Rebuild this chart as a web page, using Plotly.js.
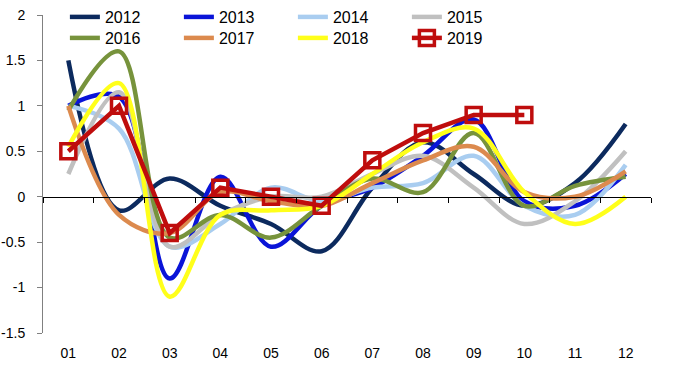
<!DOCTYPE html>
<html>
<head>
<meta charset="utf-8">
<script src="https://cdn.plot.ly/plotly-3.0.1.min.js"></script>
<style>
  html, body { margin: 0; padding: 0; background: #fff; }
  #chart { width: 680px; height: 372px; }
</style>
</head>
<body>
<div id="chart"></div>
<script>
const months = ['01','02','03','04','05','06','07','08','09','10','11','12'];
const s2012 = [1.5, -0.15, 0.2, -0.1, -0.3, -0.6, 0.1, 0.6, 0.25, -0.1, 0.15, 0.8];
const s2013 = [1.0, 1.1, -0.9, 0.22, -0.55, -0.1, 0.1, 0.45, 0.85, -0.05, -0.1, 0.25];
const s2014 = [1.0, 0.75, -0.55, -0.3, 0.1, -0.05, 0.1, 0.15, 0.45, -0.1, -0.2, 0.35];
const s2015 = [0.25, 1.15, -0.55, -0.2, 0.0, 0.0, 0.25, 0.45, 0.1, -0.3, -0.05, 0.5];
const s2016 = [0.95, 1.6, -0.45, -0.2, -0.45, -0.1, 0.2, 0.05, 0.7, -0.1, 0.12, 0.22];
const s2017 = [1.0, -0.2, -0.4, 0.05, -0.05, -0.1, 0.15, 0.4, 0.55, 0.05, 0.0, 0.28];
const s2018 = [0.55, 1.25, -1.1, -0.2, -0.15, -0.1, 0.25, 0.6, 0.75, 0.05, -0.3, 0.0];
const s2019 = [0.5, 1.0, -0.4, 0.1, 0.0, -0.1, 0.4, 0.7, 0.9, 0.9];

const yTickVals = [-1.5, -1, -0.5, 0, 0.5, 1, 1.5, 2];
const yTickText = ['-1.5', '-1', '-0.5', '0', '0.5', '1', '1.5', '2'];
const yRange = [-1.5, 2];

const smooth = [
  {name: '2012', y: s2012, color: '#0c2a5e', legend: 'legend'},
  {name: '2013', y: s2013, color: '#0a14d8', legend: 'legend'},
  {name: '2014', y: s2014, color: '#a9cdf0', legend: 'legend'},
  {name: '2015', y: s2015, color: '#c0c0c0', legend: 'legend'},
  {name: '2016', y: s2016, color: '#77933c', legend: 'legend2'},
  {name: '2017', y: s2017, color: '#dc8a4e', legend: 'legend2'},
  {name: '2018', y: s2018, color: '#ffff1a', legend: 'legend2'}
];

const traces = smooth.map(s => ({
  type: 'scatter', mode: 'lines', name: s.name, legend: s.legend,
  x: months.slice(0, s.y.length), y: s.y,
  xaxis: 'x', yaxis: 'y',
  line: {color: s.color, width: 4.5, shape: 'spline', smoothing: 1},
  hoverinfo: 'skip'
}));

traces.push({
  type: 'scatter', mode: 'lines+markers', name: '2019', legend: 'legend2',
  x: months.slice(0, s2019.length), y: s2019,
  xaxis: 'x2', yaxis: 'y',
  line: {color: '#bf0d0d', width: 4.5},
  marker: {symbol: 'square-open', size: 15, color: '#bf0d0d', line: {color: '#bf0d0d', width: 3.5}},
  hoverinfo: 'skip'
});

const font = {family: '"Liberation Sans", Arial, sans-serif', size: 14, color: '#000'};
const legendFont = {family: font.family, size: 16, color: '#000'};

const H = 372, B = 39, TOPGAP = 15;
const paperH = H - B;
const domTop = (paperH - TOPGAP) / paperH;
const zeroPos = domTop * (0 - yRange[0]) / (yRange[1] - yRange[0]);

const layout = {
  width: 680, height: H,
  margin: {l: 43, r: 29, t: 0, b: B},
  paper_bgcolor: '#fff', plot_bgcolor: '#fff',
  font: font,
  showlegend: true,
  legend: {
    orientation: 'h', x: 0.036, y: 1.0, xanchor: 'left', yanchor: 'top',
    entrywidth: 69, font: legendFont, bgcolor: 'rgba(0,0,0,0)', traceorder: 'normal'
  },
  legend2: {
    orientation: 'h', x: 0.036, y: 1 - 21 / paperH, xanchor: 'left', yanchor: 'top',
    entrywidth: 69, font: legendFont, bgcolor: 'rgba(0,0,0,0)', traceorder: 'normal'
  },
  xaxis: {
    type: 'category', categoryorder: 'array', categoryarray: months,
    range: [-0.5, 11.5], anchor: 'free', position: zeroPos,
    showline: true, linecolor: '#000', linewidth: 1,
    ticks: 'outside', tickson: 'boundaries', ticklen: 5, tickcolor: '#000', tickwidth: 1,
    showticklabels: false, showgrid: false, zeroline: false, fixedrange: true
  },
  xaxis2: {
    type: 'category', categoryorder: 'array', categoryarray: months,
    range: [-0.5, 11.5], overlaying: 'x', anchor: 'y', side: 'bottom',
    showline: false, ticks: '', showgrid: false, zeroline: false,
    tickfont: font, ticklabelstandoff: 10, fixedrange: true
  },
  yaxis: {
    range: yRange, domain: [0, domTop], tickvals: yTickVals, ticktext: yTickText,
    showline: true, linecolor: '#808080', linewidth: 1,
    ticks: 'outside', ticklen: 5, tickcolor: '#808080',
    showgrid: false, zeroline: false, tickfont: font, ticklabelstandoff: 9, fixedrange: true
  }
};

Plotly.newPlot('chart', traces, layout, {displayModeBar: false, staticPlot: true});
</script>
</body>
</html>
